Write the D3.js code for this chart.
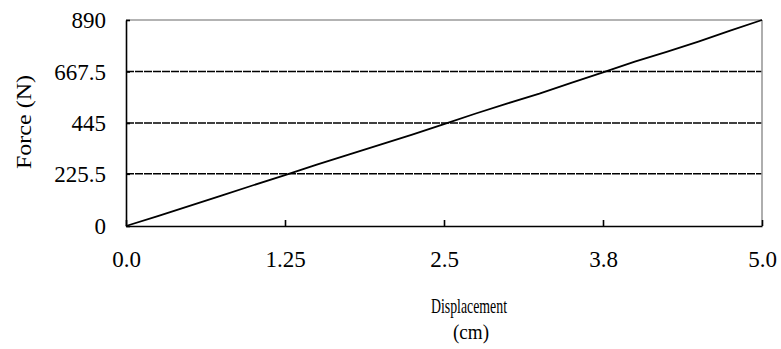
<!DOCTYPE html>
<html>
<head>
<meta charset="utf-8">
<script src="https://cdn.jsdelivr.net/npm/d3@7"></script>
<style>
  html, body { margin: 0; padding: 0; background: #fff; }
  svg { display: block; }
  text { font-family: "Liberation Serif", "Times New Roman", serif; fill: #000; }
</style>
</head>
<body>
<svg id="chart" width="781" height="349"></svg>
<script>
// ---- data ----
const displacement = [0, 0.25, 0.5, 0.75, 1.0, 1.25, 1.5, 1.75, 2.0, 2.25, 2.5,
                      2.75, 3.0, 3.25, 3.5, 3.75, 4.0, 4.25, 4.5, 4.75, 5.0];
const force = [0, 43, 87, 131, 176, 220, 265, 308, 352, 395, 440,
               486, 530, 572, 618, 664, 710, 752, 797, 844, 890];
const yTickValues = [0, 225.5, 445, 667.5, 890];
const yTickLabels = ["0", "225.5", "445", "667.5", "890"];
const xTickValues = [0, 1.25, 2.5, 3.75, 5.0];
const xTickLabels = ["0.0", "1.25", "2.5", "3.8", "5.0"];
const xTitle = ["Displacement", "(cm)"];
const yTitle = "Force (N)";

// ---- layout ----
const svg = d3.select("#chart");
const L = 126, R = 762, T = 20, B = 226;
const x = d3.scaleLinear().domain([0, 5]).range([L, R]);
const y = d3.scaleLinear().domain([0, 890]).range([B, T]);

// gridlines (dashed, except top which is border)
svg.append("g").selectAll("line")
  .data(yTickValues.filter(v => v > 0 && v < 890))
  .join("line")
  .attr("x1", L).attr("x2", R)
  .attr("y1", d => y(d)).attr("y2", d => y(d))
  .attr("stroke", "#000").attr("stroke-width", 1.6)
  .attr("stroke-dasharray", "8,1");

// top and right borders (gray)
svg.append("line").attr("x1", L).attr("x2", R).attr("y1", T).attr("y2", T)
  .attr("stroke", "#9a9a9a").attr("stroke-width", 1.6);
svg.append("line").attr("x1", R).attr("x2", R).attr("y1", T).attr("y2", B)
  .attr("stroke", "#9a9a9a").attr("stroke-width", 1.6);

// y axis
const yAxis = d3.axisLeft(y).tickValues(yTickValues)
  .tickFormat((d, i) => yTickLabels[i]).tickSizeInner(-4).tickSizeOuter(0).tickPadding(20);
const gy = svg.append("g").attr("transform", `translate(${L},0)`).call(yAxis);
gy.select(".domain").attr("stroke", "#000").attr("stroke-width", 1.6);
gy.selectAll(".tick line").attr("stroke", "#000").attr("stroke-width", 1.6);
gy.selectAll(".tick text").attr("font-size", 23).attr("font-family", "Liberation Serif").attr("fill", "#000")
  .attr("dy", "0.33em");

// x axis
const xAxis = d3.axisBottom(x).tickValues(xTickValues)
  .tickFormat((d, i) => xTickLabels[i]).tickSizeInner(-6).tickSizeOuter(0).tickPadding(39);
const gx = svg.append("g").attr("transform", `translate(0,${B})`).call(xAxis);
gx.select(".domain").attr("stroke", "#000").attr("stroke-width", 1.6);
gx.selectAll(".tick line").attr("stroke", "#000").attr("stroke-width", 1.6);
gx.selectAll(".tick text").attr("font-size", 23).attr("font-family", "Liberation Serif").attr("fill", "#000")
  .attr("dy", "0.1em");

// line
const line = d3.line().x((d, i) => x(displacement[i])).y(d => y(d));
svg.append("path").datum(force)
  .attr("d", line).attr("fill", "none")
  .attr("stroke", "#000").attr("stroke-width", 1.8);

// titles
svg.append("text").attr("x", 469).attr("y", 313).attr("text-anchor", "middle")
  .attr("font-size", 22).attr("textLength", 76).attr("lengthAdjust", "spacingAndGlyphs")
  .text(xTitle[0]);
svg.append("text").attr("x", 471).attr("y", 339).attr("text-anchor", "middle")
  .attr("font-size", 21).attr("textLength", 36).attr("lengthAdjust", "spacingAndGlyphs")
  .text(xTitle[1]);
svg.append("text").attr("transform", "translate(31,122) rotate(-90)")
  .attr("text-anchor", "middle").attr("font-size", 22)
  .attr("textLength", 94).attr("lengthAdjust", "spacingAndGlyphs")
  .text(yTitle);
</script>
</body>
</html>
